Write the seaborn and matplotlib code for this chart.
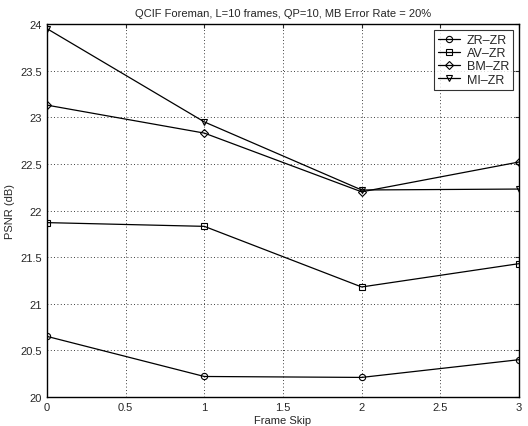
import numpy as np
import pandas as pd
import matplotlib
matplotlib.use("Agg")
import matplotlib.pyplot as plt
import seaborn as sns

frame_skip = [0, 1, 2, 3]
zr_zr = [20.65, 20.22, 20.21, 20.40]
av_zr = [21.87, 21.83, 21.18, 21.43]
bm_zr = [23.13, 22.83, 22.20, 22.52]
mi_zr = [23.95, 22.95, 22.22, 22.23]

labels = ["ZR\u2013ZR", "AV\u2013ZR", "BM\u2013ZR", "MI\u2013ZR"]
markers = ["o", "s", "D", "v"]

df = pd.DataFrame({
    "Frame Skip": frame_skip * 4,
    "PSNR": zr_zr + av_zr + bm_zr + mi_zr,
    "Method": [m for m in labels for _ in frame_skip],
})

sns.set_style("white")
plt.rcParams["font.family"] = ["Liberation Sans", "DejaVu Sans"]

fig = plt.figure(figsize=(5.28, 4.27), dpi=100)
ax = fig.add_axes([47 / 528, 1 - 398 / 427, 472 / 528, 373 / 427])

sns.lineplot(data=df, x="Frame Skip", y="PSNR", hue="Method", style="Method",
             markers=dict(zip(labels, markers)), dashes=False,
             palette=["black"] * 4, linewidth=0.9, markersize=4.5,
             markerfacecolor="none", markeredgecolor="black", markeredgewidth=0.8,
             ax=ax)

ax.set_xlim(0, 3)
ax.set_ylim(20, 24)
ax.set_xticks(np.arange(0, 3.01, 0.5))
ax.set_xticklabels(["0", "0.5", "1", "1.5", "2", "2.5", "3"])
ax.set_yticks(np.arange(20, 24.01, 0.5))
ax.set_yticklabels(["20", "20.5", "21", "21.5", "22", "22.5", "23", "23.5", "24"])
ax.tick_params(direction="in", length=3, labelsize=8, width=0.8, top=True, right=True)
ax.grid(True, linestyle=(0, (1, 3)), color="black", linewidth=0.6)
for s in ax.spines.values():
    s.set_color("black")
    s.set_linewidth(1.0)

ax.set_xlabel("Frame Skip", fontsize=8, labelpad=2)
ax.set_ylabel("PSNR (dB)", fontsize=8)
ax.set_title("QCIF Foreman, L=10 frames, QP=10, MB Error Rate = 20%", fontsize=8, pad=6)

leg = ax.legend(loc="upper right", fontsize=9, frameon=True, fancybox=False,
                edgecolor="black", handlelength=1.8, borderpad=0.3,
                labelspacing=0.1, handletextpad=0.5, borderaxespad=0.5)
leg.get_frame().set_linewidth(0.8)
for h in leg.legend_handles:
    h.set_markerfacecolor("none")
    h.set_markeredgecolor("black")
    h.set_color("black")

fig.savefig("out.png", dpi=100)
